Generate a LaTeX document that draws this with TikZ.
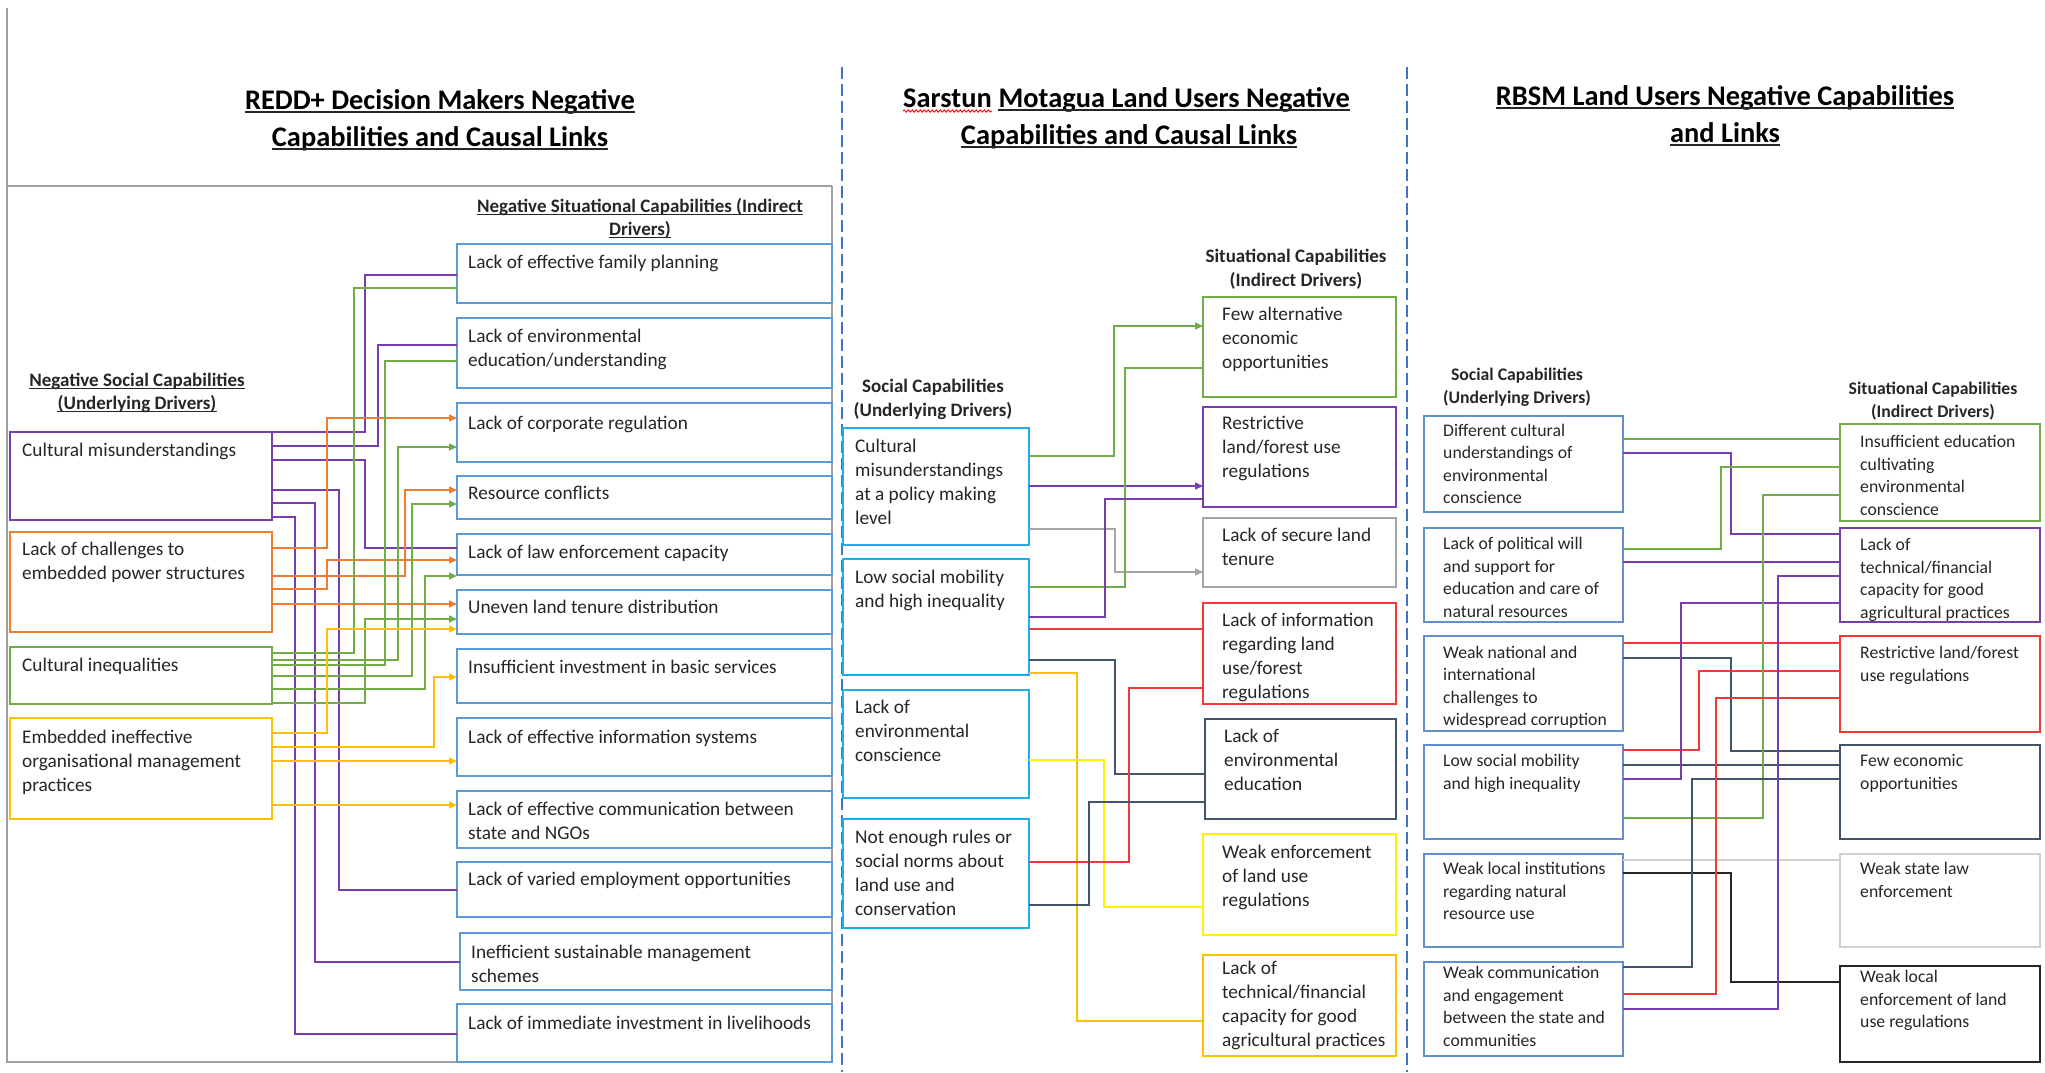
\documentclass[tikz,border=0pt]{standalone}
\usepackage{fontspec}
\setmainfont{Carlito}
\usetikzlibrary{arrows.meta,decorations.pathmorphing}

\definecolor{ink}{HTML}{262626}
\definecolor{panelblue}{HTML}{5B9BD5}
\definecolor{skyblue}{HTML}{1FAEEB}
\definecolor{steelblue}{HTML}{6290C8}
\definecolor{cpurple}{HTML}{7A3DB0}
\definecolor{corange}{HTML}{ED7D31}
\definecolor{cgreen}{HTML}{70AD47}
\definecolor{cgold}{HTML}{FFC000}
\definecolor{cyellow}{HTML}{FFF000}
\definecolor{cgray}{HTML}{A5A5A5}
\definecolor{clight}{HTML}{D0D0D0}
\definecolor{cred}{HTML}{F03A3A}
\definecolor{cnavy}{HTML}{44546A}
\definecolor{cblack}{HTML}{262626}
\definecolor{framegray}{HTML}{A0A0A0}
\definecolor{dashblue}{HTML}{4472C4}

% box with its text: name, colour, x, y, width, height, text dx, first baseline dy, lines
\newcommand\cbox[9]{%
  \node[capbox, draw=#2, minimum width=#5pt, minimum height=#6pt] (#1) at (#3,#4) {};
  \node[boxtext] (#1-t) at ([xshift=#7pt, yshift=-#8pt]#1.north west)
    {\begin{tabular}[t]{@{}l@{}}#9\end{tabular}};
}
% elbow connector: style, source, source y, vertical x, target, target y
\newcommand\elbow[6]{%
  \draw[link,#1] (#2.east |- 0,#3) -- (#4,#3) -- (#4,#6) -- (#5.west |- 0,#6);
}
% straight connector: style, source, y, target
\newcommand\straight[4]{%
  \draw[link,#1] (#2.east |- 0,#3) -- (#4.west |- 0,#3);
}
% underline of a one-line text node: node, depth below baseline
\newcommand\underrule[2]{%
  \draw[underrule] ([yshift=-#2pt]#1.base west) -- ([yshift=-#2pt]#1.base east);
}

\begin{document}
\begin{tikzpicture}[x=1pt,y=-1pt,
  capbox/.style={draw, line width=1.6pt, anchor=north west, inner sep=0pt, outer sep=0pt},
  boxtext/.style={anchor=base west, inner sep=0pt, text=ink, font=\fontsize{19.3}{24}\selectfont},
  link/.style={line width=1.5pt},
  tip/.style={-{Triangle[length=8pt,width=7pt]}},
  heading/.style={anchor=base, inner sep=0pt, text=ink, font=\fontsize{19}{23}\selectfont\bfseries},
  paneltitle/.style={anchor=base, inner sep=0pt, text=black, font=\fontsize{28.4}{34}\selectfont\bfseries},
  underrule/.style={draw=black!85, line width=1.5pt},
  frameline/.style={draw=framegray, line width=1.6pt},
  divider/.style={draw=dashblue, line width=1.5pt, dash pattern=on 12pt off 5pt},
]
\fill[white] (0,0) rectangle (2045,1072);
\useasboundingbox (0,0) rectangle (2045,1072);

% ---------------- panel frame and dividers ----------------
\draw[frameline] (7,8) -- (7,1062) -- (832,1062) -- (832,186);
\draw[frameline, line width=2.2pt] (7,186) -- (832,186);
\draw[divider] (842,67) -- (842,1072);
\draw[divider] (1407,67) -- (1407,1072);

% ---------------- titles ----------------
\node[paneltitle] (t1a) at (440,109) {REDD+ Decision Makers Negative};
\node[paneltitle] (t1b) at (440,146) {Capabilities and Causal Links};
\underrule{t1a}{3}\underrule{t1b}{3}

\node[paneltitle, anchor=base west] (t2a) at (903,107) {Sarstun};
\node[paneltitle, anchor=base west] (t2b) at ([xshift=6.5pt]t2a.base east) {Motagua Land Users Negative};
\node[paneltitle] (t2c) at (1129,144) {Capabilities and Causal Links};
\draw[red, line width=0.9pt, decorate, decoration={snake, amplitude=1.1pt, segment length=4pt}]
  ([yshift=-4pt]t2a.base west) -- ([yshift=-4pt]t2a.base east);
\underrule{t2b}{3}\underrule{t2c}{3}

\node[paneltitle] (t3a) at (1725,105) {RBSM Land Users Negative Capabilities};
\node[paneltitle] (t3b) at (1725,142) {and Links};
\underrule{t3a}{3}\underrule{t3b}{3}

% ---------------- REDD+ decision makers ----------------
\node[heading] (h1a) at (137,386) {Negative Social Capabilities};
\node[heading] (h1b) at (137,409) {(Underlying Drivers)};
\node[heading] (h2a) at (640,212) {Negative Situational Capabilities (Indirect};
\node[heading] (h2b) at (640,235) {Drivers)};
\underrule{h1a}{2.5}\underrule{h1b}{2.5}\underrule{h2a}{2.5}\underrule{h2b}{2.5}

\cbox{lcm}{cpurple}{10}{432}{262}{88}{12}{24}{Cultural misunderstandings}
\cbox{lch}{corange}{10}{532}{262}{100}{12}{23}{Lack of challenges to\\embedded power structures}
\cbox{lci}{cgreen}{10}{647}{262}{57}{12}{24}{Cultural inequalities}
\cbox{lem}{cgold}{10}{718}{262}{101}{12}{25}{Embedded ineffective\\organisational management\\practices}

\cbox{r1}{panelblue}{457}{244}{375}{59}{11}{24}{Lack of effective family planning}
\cbox{r2}{panelblue}{457}{318}{375}{70}{11}{24}{Lack of environmental\\education/understanding}
\cbox{r3}{panelblue}{457}{403}{375}{59}{11}{26}{Lack of corporate regulation}
\cbox{r4}{panelblue}{457}{476}{375}{43}{11}{23}{Resource conflicts}
\cbox{r5}{panelblue}{457}{534}{375}{41}{11}{24}{Lack of law enforcement capacity}
\cbox{r6}{panelblue}{457}{590}{375}{44}{11}{23}{Uneven land tenure distribution}
\cbox{r7}{panelblue}{457}{649}{375}{54}{11}{24}{Insufficient investment in basic services}
\cbox{r8}{panelblue}{457}{718}{375}{58}{11}{25}{Lack of effective information systems}
\cbox{r9}{panelblue}{457}{791}{375}{57}{11}{24}{Lack of effective communication between\\state and NGOs}
\cbox{r10}{panelblue}{457}{862}{375}{55}{11}{23}{Lack of varied employment opportunities}
\cbox{r11}{panelblue}{460}{933}{372}{57}{11}{25}{Inefficient sustainable management\\schemes}
\cbox{r12}{panelblue}{457}{1004}{375}{58}{11}{25}{Lack of immediate investment in livelihoods}

% cultural misunderstandings
\elbow{cpurple}{lcm}{432}{365}{r1}{275}
\elbow{cpurple}{lcm}{446}{378}{r2}{345}
\elbow{cpurple}{lcm}{460}{365}{r5}{548}
\elbow{cpurple}{lcm}{490}{339}{r10}{890}
\elbow{cpurple}{lcm}{503}{315}{r11}{962}
\elbow{cpurple}{lcm}{517}{295}{r12}{1034}
% lack of challenges to power structures
\elbow{corange,tip}{lch}{548}{327}{r3}{418}
\elbow{corange,tip}{lch}{576}{405}{r4}{490}
\elbow{corange,tip}{lch}{589}{327}{r5}{560}
\straight{corange,tip}{lch}{604}{r6}
% cultural inequalities
\elbow{cgreen}{lci}{653}{354}{r1}{288}
\elbow{cgreen}{lci}{665}{385}{r2}{361}
\elbow{cgreen,tip}{lci}{660}{398}{r3}{447}
\elbow{cgreen,tip}{lci}{676}{412}{r4}{504}
\elbow{cgreen,tip}{lci}{689}{425}{r5}{576}
\elbow{cgreen,tip}{lci}{703}{365}{r6}{619}
% embedded management practices
\elbow{cgold,tip}{lem}{733}{327}{r6}{629}
\elbow{cgold,tip}{lem}{747}{434}{r7}{677}
\straight{cgold,tip}{lem}{761}{r8}
\straight{cgold,tip}{lem}{805}{r9}

% ---------------- Sarstun Motagua land users ----------------
\node[heading] (h3a) at (933,392) {Social Capabilities};
\node[heading] (h3b) at (933,416) {(Underlying Drivers)};
\node[heading] (h4a) at (1296,262) {Situational Capabilities};
\node[heading] (h4b) at (1296,286) {(Indirect Drivers)};

\cbox{ma}{skyblue}{843}{428}{186}{117}{12}{24}{Cultural\\misunderstandings\\at a policy making\\level}
\cbox{mb}{skyblue}{843}{559}{186}{116}{12}{24}{Low social mobility\\and high inequality}
\cbox{mc}{skyblue}{843}{690}{186}{108}{12}{23}{Lack of\\environmental\\conscience}
\cbox{md}{skyblue}{843}{819}{186}{109}{12}{24}{Not enough rules or\\social norms about\\land use and\\conservation}

\cbox{mr1}{cgreen}{1203}{297}{193}{100}{19}{23}{Few alternative\\economic\\opportunities}
\cbox{mr2}{cpurple}{1203}{407}{193}{100}{19}{22}{Restrictive\\land/forest use\\regulations}
\cbox{mr3}{cgray}{1203}{518}{193}{69}{19}{23}{Lack of secure land\\tenure}
\cbox{mr4}{cred}{1203}{603}{193}{101}{19}{23}{Lack of information\\regarding land\\use/forest\\regulations}
\cbox{mr5}{cnavy}{1205}{719}{191}{100}{19}{23}{Lack of\\environmental\\education}
\cbox{mr6}{cyellow}{1203}{834}{193}{101}{19}{24}{Weak enforcement\\of land use\\regulations}
\cbox{mr7}{cgold}{1203}{955}{193}{101}{19}{19}{Lack of\\technical/financial\\capacity for good\\agricultural practices}

\elbow{cgreen,tip}{ma}{456}{1114}{mr1}{326}
\straight{cpurple,tip}{ma}{486}{mr2}
\elbow{cgray,tip}{ma}{529}{1115}{mr3}{572}
\elbow{cgreen}{mb}{587}{1125}{mr1}{368}
\elbow{cpurple}{mb}{617}{1105}{mr2}{499}
\straight{cred}{mb}{629}{mr4}
\elbow{cnavy}{mb}{660}{1115}{mr5}{774}
\elbow{cgold}{mb}{673}{1077}{mr7}{1021}
\elbow{cyellow}{mc}{760}{1104}{mr6}{907}
\elbow{cred}{md}{862}{1129}{mr4}{688}
\elbow{cnavy}{md}{905}{1089}{mr5}{802}

% ---------------- RBSM land users ----------------
\begin{scope}[boxtext/.append style={font=\fontsize{17.7}{22.5}\selectfont},
              heading/.append style={font=\fontsize{17.7}{23}\selectfont\bfseries}]
\node[heading] (h5a) at (1517,380) {Social Capabilities};
\node[heading] (h5b) at (1517,403) {(Underlying Drivers)};
\node[heading] (h6a) at (1933,394) {Situational Capabilities};
\node[heading] (h6b) at (1933,417) {(Indirect Drivers)};

\cbox{ba}{steelblue}{1424}{416}{199}{96}{19}{20}{Different cultural\\understandings of\\environmental\\conscience}
\cbox{bb}{steelblue}{1424}{528}{199}{94}{19}{21.5}{Lack of political will\\and support for\\education and care of\\natural resources}
\cbox{bc}{steelblue}{1424}{636}{199}{95}{19}{22}{Weak national and\\international\\challenges to\\widespread corruption}
\cbox{bd}{steelblue}{1424}{745}{199}{94}{19}{21.5}{Low social mobility\\and high inequality}
\cbox{be}{steelblue}{1424}{854}{199}{93}{19}{20.5}{Weak local institutions\\regarding natural\\resource use}
\cbox{bf}{steelblue}{1424}{962}{199}{94}{19}{16.5}{Weak communication\\and engagement\\between the state and\\communities}

\cbox{ra}{cgreen}{1840}{424}{200}{97}{20}{23.5}{Insufficient education\\cultivating\\environmental\\conscience}
\cbox{rb}{cpurple}{1840}{528}{200}{94}{20}{22.5}{Lack of\\technical/financial\\capacity for good\\agricultural practices}
\cbox{rc}{cred}{1840}{636}{200}{96}{20}{22.5}{Restrictive land/forest\\use regulations}
\cbox{rd}{cnavy}{1840}{745}{200}{94}{20}{21.5}{Few economic\\opportunities}
\cbox{re}{clight}{1840}{854}{200}{93}{20}{20.5}{Weak state law\\enforcement}
\cbox{rf}{cblack}{1840}{966}{200}{96}{20}{16.5}{Weak local\\enforcement of land\\use regulations}
\end{scope}

\straight{cgreen}{ba}{439}{ra}
\elbow{cpurple}{ba}{453}{1731}{rb}{534}
\elbow{cgreen}{bb}{549}{1721}{ra}{467}
\straight{cpurple}{bb}{562}{rb}
\straight{cred}{bc}{643}{rc}
\elbow{cnavy}{bc}{658}{1731}{rd}{751}
\elbow{cred}{bd}{750}{1699}{rc}{671}
\straight{cnavy}{bd}{765}{rd}
\elbow{cpurple}{bd}{779}{1681}{rb}{603}
\elbow{cgreen}{bd}{818}{1763}{ra}{495}
\straight{clight}{be}{860}{re}
\elbow{cblack}{be}{873}{1731}{rf}{982}
\elbow{cnavy}{bf}{967}{1692}{rd}{779}
\elbow{cred}{bf}{994}{1716}{rc}{698}
\elbow{cpurple}{bf}{1009}{1778}{rb}{576}

\end{tikzpicture}
\end{document}
